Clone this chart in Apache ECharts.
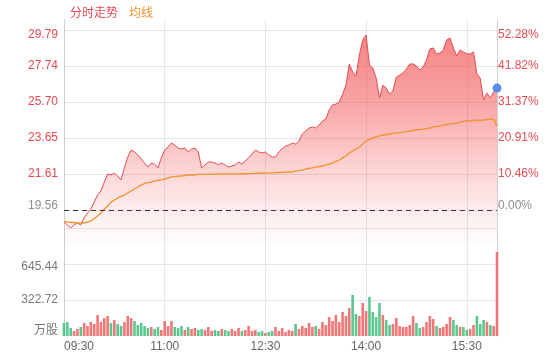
<!DOCTYPE html>
<html><head><meta charset="utf-8">
<script src="https://cdn.jsdelivr.net/npm/echarts@6/dist/echarts.min.js"></script>
<style>html,body{margin:0;padding:0;background:#fff}#c{width:560px;height:360px}</style>
</head><body><div id="c"></div>
<script>
// ---------- data ----------
const preClose = 19.56;
const startTime = '09:30';
const stepMinutes = 3;
const timeLabels = ['09:30', '11:00', '12:30', '14:00', '15:30'];
const priceTicks = ['19.56', '21.61', '23.65', '25.70', '27.74', '29.79'];
const pctTicks = ['0.00%', '10.46%', '20.91%', '31.37%', '41.82%', '52.28%'];
const volTicks = ['万股', '322.72', '645.44'];
const seriesNames = ['分时走势', '均线'];

const price = [
  18.88, 18.71, 18.54, 18.71, 18.82, 18.71, 19.11, 19.39, 19.62, 20.01,
  20.41, 20.64, 21.15, 21.61, 21.55, 21.66, 21.49, 21.27, 21.95, 22.57,
  22.97, 22.86, 22.69, 22.46, 22.23, 22.00, 22.23, 22.17, 21.95, 22.52,
  22.97, 23.14, 23.37, 23.25, 23.08, 23.03, 23.08, 22.86, 23.03, 23.08,
  22.86, 21.95, 22.12, 22.29, 22.29, 22.23, 22.12, 22.23, 22.12, 22.00,
  22.06, 22.12, 22.29, 22.17, 22.35, 22.52, 22.74, 22.97, 22.86, 22.80,
  22.86, 22.69, 22.57, 22.57, 22.86, 23.03, 23.20, 23.25, 23.37, 23.31,
  23.48, 23.88, 24.05, 24.22, 24.28, 24.22, 24.39, 24.62, 24.73, 25.24,
  25.53, 25.58, 25.70, 26.15, 26.66, 27.86, 27.40, 27.18, 28.37, 29.22,
  29.51, 27.80, 27.63, 27.06, 25.93, 26.66, 26.49, 26.15, 26.32, 27.12,
  27.23, 27.35, 27.57, 27.86, 27.86, 27.74, 27.52, 27.69, 28.09, 28.71,
  28.77, 28.43, 28.48, 28.65, 29.22, 29.34, 28.77, 28.31, 28.65, 28.54,
  28.43, 28.43, 28.54, 27.29, 27.06, 25.81, 26.21, 25.93, 26.27, 26.49
];
const avgPrice = [
  18.88, 18.88, 18.85, 18.85, 18.82, 18.82, 18.82, 18.88, 18.93, 19.08,
  19.22, 19.39, 19.62, 19.79, 20.01, 20.13, 20.24, 20.33, 20.41, 20.53,
  20.64, 20.75, 20.87, 20.98, 21.07, 21.12, 21.15, 21.21, 21.24, 21.27,
  21.32, 21.38, 21.44, 21.46, 21.49, 21.49, 21.52, 21.55, 21.55, 21.55,
  21.58, 21.58, 21.58, 21.59, 21.59, 21.60, 21.60, 21.60, 21.61, 21.61,
  21.61, 21.61, 21.61, 21.62, 21.62, 21.63, 21.63, 21.64, 21.65, 21.65,
  21.66, 21.66, 21.67, 21.68, 21.69, 21.70, 21.71, 21.72, 21.72, 21.78,
  21.80, 21.83, 21.89, 21.92, 21.95, 22.00, 22.03, 22.06, 22.12, 22.17,
  22.23, 22.32, 22.40, 22.52, 22.63, 22.80, 22.91, 23.03, 23.14, 23.31,
  23.48, 23.57, 23.65, 23.71, 23.77, 23.82, 23.85, 23.88, 23.91, 23.94,
  23.94, 23.99, 24.02, 24.05, 24.08, 24.11, 24.14, 24.16, 24.19, 24.22,
  24.28, 24.31, 24.33, 24.39, 24.42, 24.45, 24.48, 24.50, 24.56, 24.59,
  24.62, 24.62, 24.65, 24.67, 24.67, 24.67, 24.70, 24.73, 24.73, 24.33
];
const volume = [
  116.5, 125.5, 71.7, 44.8, 62.7, 80.7, 116.5, 89.6, 125.5, 107.6,
  188.2, 125.5, 161.4, 179.3, 116.5, 143.4, 107.6, 89.6, 125.5, 179.3,
  161.4, 134.5, 98.6, 116.5, 89.6, 71.7, 80.7, 62.7, 80.7, 53.8,
  134.5, 89.6, 134.5, 80.7, 71.7, 89.6, 53.8, 80.7, 62.7, 71.7,
  53.8, 62.7, 53.8, 80.7, 44.8, 53.8, 44.8, 62.7, 53.8, 44.8,
  62.7, 44.8, 71.7, 44.8, 53.8, 89.6, 44.8, 53.8, 35.9, 44.8,
  26.9, 35.9, 44.8, 80.7, 44.8, 71.7, 35.9, 53.8, 44.8, 107.6,
  62.7, 89.6, 71.7, 116.5, 80.7, 89.6, 62.7, 125.5, 98.6, 170.3,
  134.5, 188.2, 125.5, 215.1, 179.3, 251.0, 367.5, 197.2, 179.3, 295.8,
  224.1, 349.6, 215.1, 170.3, 295.8, 188.2, 143.4, 98.6, 107.6, 161.4,
  89.6, 80.7, 80.7, 98.6, 179.3, 116.5, 71.7, 80.7, 125.5, 179.3,
  152.4, 89.6, 71.7, 80.7, 107.6, 170.3, 143.4, 98.6, 80.7, 80.7,
  53.8, 62.7, 98.6, 179.3, 107.6, 143.4, 125.5, 98.6, 89.6, 753.0
];

// ---------- categories (time of each sample) ----------
const times = [];
(function () {
  const p = startTime.split(':');
  let m = (+p[0]) * 60 + (+p[1]);
  for (let i = 0; i < price.length; i++) {
    const h = Math.floor(m / 60), mm = m % 60;
    times.push((h < 10 ? '0' : '') + h + ':' + (mm < 10 ? '0' : '') + mm);
    m += stepMinutes;
  }
})();

// ---------- styles ----------
const RED = '#e84a52';
const GRAY = '#8f8f8f';
const ORANGE = '#f5902a';
const GRID = '#e6e6e6';
const AXIS = '#d0d0d0';
const FONT = 'Arial, "Liberation Sans", "Noto Sans CJK SC", sans-serif';

const yStep = (parseFloat(priceTicks[5]) - parseFloat(priceTicks[0])) / (priceTicks.length - 1);
const yMin = preClose - yStep;
const yMax = preClose + (priceTicks.length - 1) * yStep + yStep * 10 / 36;
const vStep = parseFloat(volTicks[1]);
const vMax = vStep * 3;

function tickIndex(v, min, step) {
  const k = Math.round((v - min) / step);
  if (Math.abs(v - (min + k * step)) > 1e-3) return -1;
  return k;
}
const rich = {
  r: { color: RED, fontSize: 12, fontFamily: FONT },
  rt: { color: RED, fontSize: 12, fontFamily: FONT, padding: [10, 0, 0, 0] },
  g: { color: GRAY, fontSize: 12, fontFamily: FONT, padding: [0, 0, 8, 0] },
  v: { color: '#777', fontSize: 12, fontFamily: FONT },
  vt: { color: '#777', fontSize: 12, fontFamily: FONT, padding: [6, 0, 0, 0] },
  vb: { color: '#777', fontSize: 12, fontFamily: FONT, padding: [0, 0, 10, 0] }
};
function priceLabel(labels) {
  return function (v) {
    const k = tickIndex(v, yMin, yStep) - 1;
    if (k < 0 || k >= labels.length) return '';
    if (k === 0) return '{g|' + labels[k] + '}';
    if (k === labels.length - 1) return '{rt|' + labels[k] + '}';
    return '{r|' + labels[k] + '}';
  };
}
const showTime = function (idx, val) { return timeLabels.indexOf(val) >= 0; };

const chart = echarts.init(document.getElementById('c'), null, { renderer: 'canvas' });
const last = price.length - 1;
chart.setOption({
  animation: false,
  textStyle: { fontFamily: FONT, fontSize: 12 },
  legend: {
    top: 3, left: 60, itemWidth: 0, itemHeight: 0, itemGap: 6, icon: 'rect',
    selectedMode: false,
    textStyle: { fontSize: 12, fontFamily: FONT },
    data: [
      { name: seriesNames[0], textStyle: { color: RED } },
      { name: seriesNames[1], textStyle: { color: ORANGE } }
    ]
  },
  grid: [
    { left: 64, right: 63, top: 20, height: 226 },
    { left: 64, right: 63, top: 228, height: 108 }
  ],
  xAxis: [
    {
      type: 'category', gridIndex: 0, data: times, boundaryGap: false,
      axisLine: { show: false }, axisTick: { show: false }, axisLabel: { show: false },
      splitLine: { show: true, interval: showTime, lineStyle: { color: GRID } }
    },
    {
      type: 'category', gridIndex: 1, data: times, boundaryGap: false,
      axisLine: { show: false }, axisTick: { show: false },
      axisLabel: { interval: showTime, color: '#666', fontSize: 12, margin: 5, alignMinLabel: 'left' },
      splitLine: { show: true, interval: showTime, lineStyle: { color: GRID } }
    }
  ],
  yAxis: [
    {
      type: 'value', gridIndex: 0, position: 'left', min: yMin, max: yMax, interval: yStep,
      axisLine: { show: true, lineStyle: { color: AXIS } }, axisTick: { show: false },
      splitLine: { show: true, showMinLine: false, showMaxLine: false, lineStyle: { color: GRID } },
      axisLabel: { margin: 6, formatter: priceLabel(priceTicks), rich: rich }
    },
    {
      type: 'value', gridIndex: 0, position: 'right', min: yMin, max: yMax, interval: yStep,
      axisLine: { show: true, lineStyle: { color: AXIS } }, axisTick: { show: false },
      splitLine: { show: false },
      axisLabel: { margin: 1, formatter: priceLabel(pctTicks), rich: rich }
    },
    {
      type: 'value', gridIndex: 1, position: 'left', min: 0, max: vMax, interval: vStep,
      axisLine: { show: true, lineStyle: { color: AXIS } }, axisTick: { show: false },
      splitLine: { show: true, showMinLine: false, showMaxLine: false, lineStyle: { color: GRID } },
      axisLabel: {
        margin: 6, rich: rich,
        formatter: function (v) {
          const k = tickIndex(v, 0, vStep);
          if (k < 0 || k >= volTicks.length) return '';
          if (k === 0) return '{vb|' + volTicks[k] + '}';
          if (k === volTicks.length - 1) return '{vt|' + volTicks[k] + '}';
          return '{v|' + volTicks[k] + '}';
        }
      }
    },
    {
      type: 'value', gridIndex: 1, position: 'right', min: 0, max: vMax, interval: vStep,
      axisLine: { show: true, lineStyle: { color: AXIS } }, axisTick: { show: false },
      splitLine: { show: false }, axisLabel: { show: false }
    }
  ],
  series: [
    {
      name: seriesNames[0], type: 'line', xAxisIndex: 0, yAxisIndex: 0, data: price,
      symbol: 'none', lineStyle: { color: RED, width: 1 }, itemStyle: { color: RED },
      areaStyle: {
        color: new echarts.graphic.LinearGradient(0, 0, 0, 1, [
          { offset: 0, color: 'rgba(240,65,65,0.92)' },
          { offset: 0.3, color: 'rgba(240,65,65,0.7)' },
          { offset: 0.6, color: 'rgba(240,65,65,0.36)' },
          { offset: 0.85, color: 'rgba(240,65,65,0.12)' },
          { offset: 1, color: 'rgba(240,65,65,0.01)' }
        ])
      },
      markLine: {
        silent: true, symbol: ['none', 'none'], label: { show: false },
        lineStyle: { color: '#333', type: [5, 4], width: 1 },
        data: [{ yAxis: preClose }]
      },
      markPoint: {
        silent: true, symbol: 'circle', symbolSize: 9, label: { show: false },
        itemStyle: { color: '#5b8de6' },
        data: [{ coord: [last, price[last]] }]
      }
    },
    {
      name: seriesNames[1], type: 'line', xAxisIndex: 0, yAxisIndex: 0, data: avgPrice,
      symbol: 'none', lineStyle: { color: ORANGE, width: 1.3 }, itemStyle: { color: ORANGE }
    },
    {
      name: '成交量', type: 'bar', xAxisIndex: 1, yAxisIndex: 2, data: volume, barWidth: 2.6,
      itemStyle: {
        color: function (p) {
          const i = p.dataIndex;
          const prev = i === 0 ? preClose : price[i - 1];
          return price[i] >= prev ? 'rgba(240,95,95,0.85)' : 'rgba(50,185,115,0.8)';
        }
      }
    }
  ]
});
</script>
</body></html>
